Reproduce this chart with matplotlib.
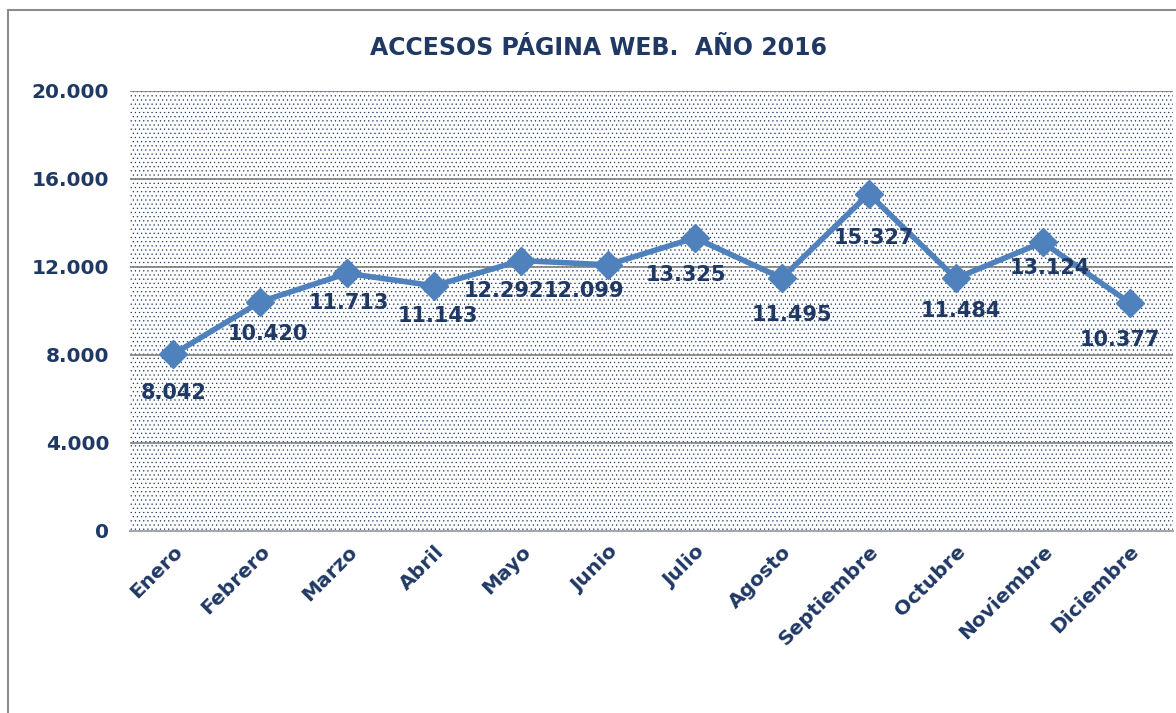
import numpy as np
import matplotlib.pyplot as plt
from matplotlib.patches import Rectangle
from matplotlib.ticker import FuncFormatter

meses = ['Enero', 'Febrero', 'Marzo', 'Abril', 'Mayo', 'Junio', 'Julio',
         'Agosto', 'Septiembre', 'Octubre', 'Noviembre', 'Diciembre']
accesos = [8042, 10420, 11713, 11143, 12292, 12099, 13325,
           11495, 15327, 11484, 13124, 10377]
y_ticks = [0, 4000, 8000, 12000, 16000, 20000]

# offsets (pixels) of each value label from its marker
label_dx = [0, 8, 2, 4, -17, -24, -9, 10, 5, 5, 7, -10]
label_dy = [-39, -32, -30, -30, -30, -26, -37, -37, -44, -33, -26, -37]

navy = '#1F3864'
blue = '#4F81BD'

def miles(v, pos=None):
    return f'{int(v):,}'.replace(',', '.')

plt.rcParams['hatch.linewidth'] = 0.4

fig = plt.figure(figsize=(11.76, 7.13), dpi=100)
# outer chart border
fig.patches.append(Rectangle((8 / 1176, -0.1), 1.1, 703 / 713 + 0.1,
                             transform=fig.transFigure, fill=False,
                             edgecolor='#8C8C8C', linewidth=1.5))

ax = fig.add_axes([130 / 1176, 182 / 713, 1043 / 1176, 440 / 713])
ax.set_facecolor('white')
# dotted plot-area fill
ax.add_patch(Rectangle((0, 0), 1, 1, transform=ax.transAxes, facecolor='white',
                       edgecolor=navy, linewidth=0, hatch='....', zorder=0))

x = np.arange(len(meses))
ax.set_xlim(-0.5, len(meses) - 0.5)
ax.set_ylim(0, 20000)
ax.set_yticks(y_ticks)
ax.yaxis.set_major_formatter(FuncFormatter(miles))
ax.grid(axis='y', color='#7F7F7F', linewidth=1.2, zorder=1)
ax.set_axisbelow(True)

ax.plot(x, accesos, color=blue, linewidth=4, marker='D', markersize=14,
        zorder=3)

for xi, v, dx, dy in zip(x, accesos, label_dx, label_dy):
    ax.annotate(miles(v), (xi, v), xytext=(dx * 0.72, dy * 0.72),
                textcoords='offset points', ha='center', va='center',
                fontsize=15, fontweight='bold', color=navy, zorder=4)

ax.set_xticks(x)
ax.set_xticklabels(meses, rotation=45, ha='right', rotation_mode='anchor',
                   fontsize=14.5, fontweight='bold', color=navy)
for lbl in ax.get_yticklabels():
    lbl.set_fontsize(14.5)
    lbl.set_fontweight('bold')
    lbl.set_color(navy)
ax.tick_params(axis='both', length=0)
ax.tick_params(axis='x', pad=8)
ax.tick_params(axis='y', pad=15)

for s in ['top', 'right', 'left']:
    ax.spines[s].set_visible(False)
ax.spines['bottom'].set_color('#A6A6A6')
ax.spines['bottom'].set_linewidth(1.5)

fig.text(598 / 1176, 1 - 48 / 713, 'ACCESOS PÁGINA WEB.  AÑO 2016',
         ha='center', va='center', fontsize=17, fontweight='bold', color=navy)

fig.savefig('out.png', dpi=100)
